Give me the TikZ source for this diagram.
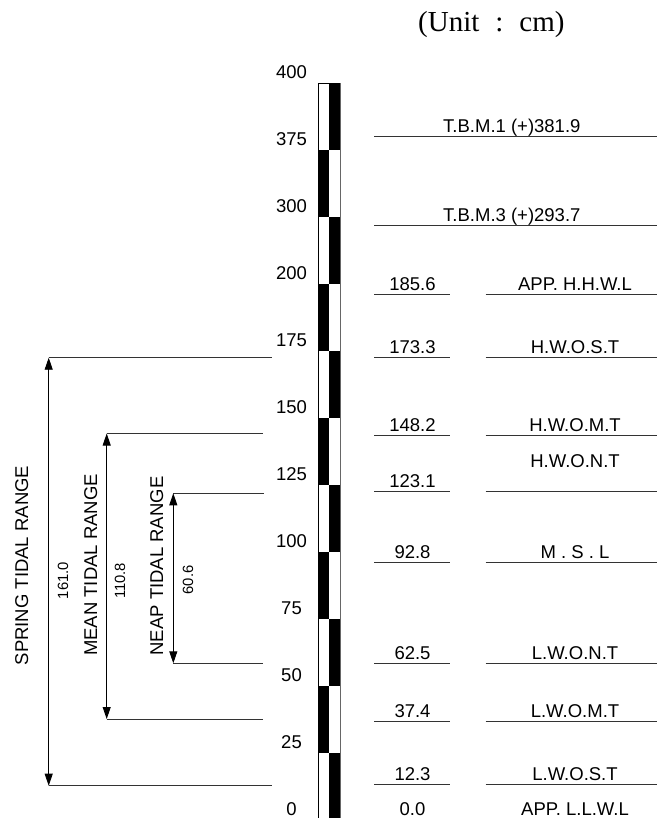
\documentclass[tikz,border=0pt]{standalone}
\usepackage{fontspec}
\setmainfont{Liberation Sans}
\newfontfamily\unitfont{Liberation Serif}
\usetikzlibrary{arrows.meta}
\begin{document}
\begin{tikzpicture}[x=1pt,y=-1pt,
  ln/.style={line width=0.9pt, draw=black!80},
  big/.style={font=\fontsize{18.5}{20}\selectfont, inner sep=0pt},
  small/.style={font=\fontsize{14.8}{16}\selectfont, inner sep=0pt},
  rng/.style={line width=0.9pt, draw=black, {Triangle[length=12pt,width=8pt]}-{Triangle[length=12pt,width=8pt]}},
]
\useasboundingbox (0,0) rectangle (657,818);

% unit
\node[font=\unitfont\fontsize{29}{30}\selectfont, inner sep=0pt, anchor=base west] (unit) at (418,32) {(Unit\hspace{16pt}:\hspace{16pt}cm)};

% staff
\foreach \k in {0,...,10} {
  \pgfmathsetmacro\ya{83+67*\k}
  \pgfmathsetmacro\yb{83+67*(\k+1)}
  \ifodd\k
    \fill (318.3,\ya) rectangle (329.3,\yb);
  \else
    \fill (329.3,\ya) rectangle (340.7,\yb);
  \fi
}
\draw[line width=0.8pt] (318.3,820) -- (318.3,83) -- (340.7,83);
\draw[line width=0.8pt, black!60] (340.7,83) -- (340.7,820);

% tick labels
\foreach \v [count=\i from 0] in {400,375,300,200,175,150,125,100,75,50,25,0} {
  \node[big, anchor=base] (t\i) at (291.5, {83+67*\i-4.5}) {\v};
}

% T.B.M. lines
\coordinate (tbA1) at (374,136.7); \coordinate (tbB1) at (657,136.7);
\draw[ln] (tbA1) -- (tbB1);
\node[big, anchor=base west] (tbm1) at (443,133) {T.B.M.1 (+)381.9};
\coordinate (tbA3) at (374,225.7); \coordinate (tbB3) at (657,225.7);
\draw[ln] (tbA3) -- (tbB3);
\node[big, anchor=base west] (tbm3) at (443,222) {T.B.M.3 (+)293.7};

% level rows
\foreach \y/\val/\nm [count=\i] in {
  294.7/185.6/APP. H.H.W.L,
  357.7/173.3/H.W.O.S.T,
  435/148.2/H.W.O.M.T,
  491.5/123.1/{},
  562.7/92.8/M . S . L,
  663.3/62.5/L.W.O.N.T,
  721/37.4/L.W.O.M.T,
  784.5/12.3/L.W.O.S.T} {
  \coordinate (va\i) at (374,\y); \coordinate (vb\i) at (450,\y);
  \coordinate (na\i) at (485.5,\y); \coordinate (nb\i) at (657,\y);
  \draw[ln] (va\i) -- (vb\i);
  \draw[ln] (na\i) -- (nb\i);
  \node[big, anchor=base] (v\i) at (412.5,\y-4) {\val};
  \node[big, anchor=base] (n\i) at (575,\y-4) {\nm};
}
\node[big, anchor=base] (hwont) at (575,467) {H.W.O.N.T};
\node[big, anchor=base] (v0) at (412.5,815.5) {0.0};
\node[big, anchor=base] (n0) at (575,815.5) {APP. L.L.W.L};

% ranges
\coordinate (sT) at (48.7,357.7);  \coordinate (sTe) at (271.7,357.7);
\coordinate (sB) at (48.7,785.7);  \coordinate (sBe) at (271.7,785.7);
\coordinate (mT) at (106.7,433.5); \coordinate (mTe) at (262.7,433.5);
\coordinate (mB) at (106.7,719);   \coordinate (mBe) at (262.7,719);
\coordinate (pT) at (173.3,493.3); \coordinate (pTe) at (264,493.3);
\coordinate (pB) at (173.3,663.3); \coordinate (pBe) at (262.7,663.3);
\draw[ln] (sT) -- (sTe); \draw[ln] (sB) -- (sBe);
\draw[ln] (mT) -- (mTe); \draw[ln] (mB) -- (mBe);
\draw[ln] (pT) -- (pTe); \draw[ln] (pB) -- (pBe);
\draw[rng] (sT) -- (sB);
\draw[rng] (mT) -- (mB);
\draw[rng] (pT) -- (pB);

\node[big, rotate=90, anchor=base] (spring) at (28,565.5) {SPRING TIDAL RANGE};
\node[small, rotate=90, anchor=base] (sv) at (68,580.5) {161.0};
\node[big, rotate=90, anchor=base] (mean) at (97,565) {MEAN TIDAL RANGE};
\node[small, rotate=90, anchor=base] (mv) at (125,581) {110.8};
\node[big, rotate=90, anchor=base] (neap) at (163,566) {NEAP TIDAL RANGE};
\node[small, rotate=90, anchor=base] (pv) at (193,580) {60.6};
\end{tikzpicture}
\end{document}
